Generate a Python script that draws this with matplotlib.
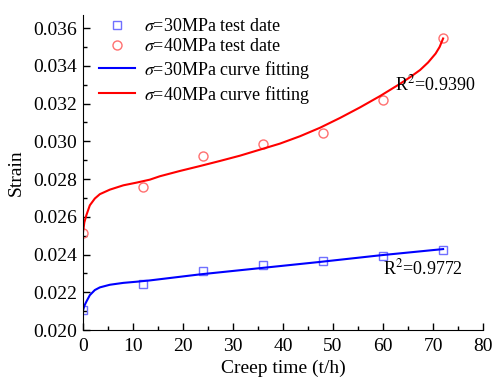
import numpy as np
import matplotlib
matplotlib.use("Agg")
import matplotlib.pyplot as plt
from matplotlib.ticker import MultipleLocator

plt.rcParams['font.family'] = ['Liberation Serif', 'DejaVu Serif']
plt.rcParams['mathtext.fontset'] = 'stix'

# test data
t_test = [0, 12, 24, 36, 48, 60, 72]
strain_30 = [0.02105, 0.02242, 0.02312, 0.02344, 0.02367, 0.02392, 0.02423]
strain_40 = [0.02515, 0.02756, 0.02922, 0.02984, 0.03044, 0.03217, 0.03547]

# fitted curves
t_fit_30 = [0, 0.3, 0.7, 1.4, 2.4, 3.4, 5.4, 8.1, 10.7, 13.4, 23.4, 35.4, 47.4, 59.4, 72]
fit_30 = [0.0210, 0.02128, 0.0215, 0.02185, 0.02212, 0.02226, 0.0224, 0.0225,
          0.02256, 0.02263, 0.02295, 0.02328, 0.02361, 0.02396, 0.02429]

t_fit_40 = [0, 0.3, 0.7, 1.4, 2.4, 3.4, 5.4, 8.1, 10.7, 13.4, 15.4, 19.4, 23.4,
            27.4, 31.4, 35.4, 39.4, 43.4, 47.4, 51.4, 55.4, 59.4, 63.4, 65.4,
            67.4, 69.0, 70.5, 71.3, 72]
fit_40 = [0.0251, 0.0257, 0.02608, 0.02661, 0.02697, 0.0272, 0.02744, 0.02767,
          0.02781, 0.02797, 0.02815, 0.02843, 0.02869, 0.02896, 0.02924, 0.02956,
          0.02988, 0.03027, 0.03072, 0.03124, 0.0318, 0.0324, 0.03305, 0.0334,
          0.03378, 0.03418, 0.03465, 0.035, 0.03545]

fig = plt.figure(figsize=(4.93, 3.82), dpi=100)
ax = fig.add_axes([0.168, 0.136, 0.812, 0.825])

s1, = ax.plot(t_test, strain_30, ls='none', marker='s', ms=6, mfc='none',
              mec='#7070ff', mew=1.0, label=r'$\sigma$=30MPa test date')
s2, = ax.plot(t_test, strain_40, ls='none', marker='o', ms=6.5, mfc='none',
              mec='#ff7070', mew=1.0, label=r'$\sigma$=40MPa test date')
l1, = ax.plot(t_fit_30, fit_30, color='#0000ff', lw=1.5, label=r'$\sigma$=30MPa curve fitting')
l2, = ax.plot(t_fit_40, fit_40, color='#ff0000', lw=1.5, label=r'$\sigma$=40MPa curve fitting')

ax.set_xlim(0, 80)
ax.set_ylim(0.020, 0.0367)
ax.xaxis.set_major_locator(MultipleLocator(10))
ax.xaxis.set_minor_locator(MultipleLocator(5))
ax.yaxis.set_major_locator(MultipleLocator(0.002))
ax.yaxis.set_minor_locator(MultipleLocator(0.001))
ax.yaxis.set_major_formatter(plt.FormatStrFormatter('%.3f'))

for sp in ['top', 'right']:
    ax.spines[sp].set_visible(False)
ax.tick_params(which='major', direction='in', length=5, width=1, labelsize=14)
ax.tick_params(axis='x', which='major', pad=6)
ax.tick_params(axis='y', which='major', pad=4)
ax.tick_params(which='minor', direction='in', length=3, width=1)

ax.set_xlabel('Creep time (t/h)', fontsize=14, labelpad=3)
ax.set_ylabel('Strain', fontsize=14, labelpad=6)

ax.text(62.4, 0.0330, r'R$^2$=0.9390', fontsize=13, va='center')
ax.text(60.0, 0.02328, r'R$^2$=0.9772', fontsize=13, va='center')

ax.legend(handles=[s1, s2, l1, l2], loc='upper left', bbox_to_anchor=(0.04, 0.99),
          frameon=False, fontsize=13, handlelength=2.0, handletextpad=0.5,
          labelspacing=0.18, borderpad=0, borderaxespad=0)

fig.savefig('out.png', dpi=100)
